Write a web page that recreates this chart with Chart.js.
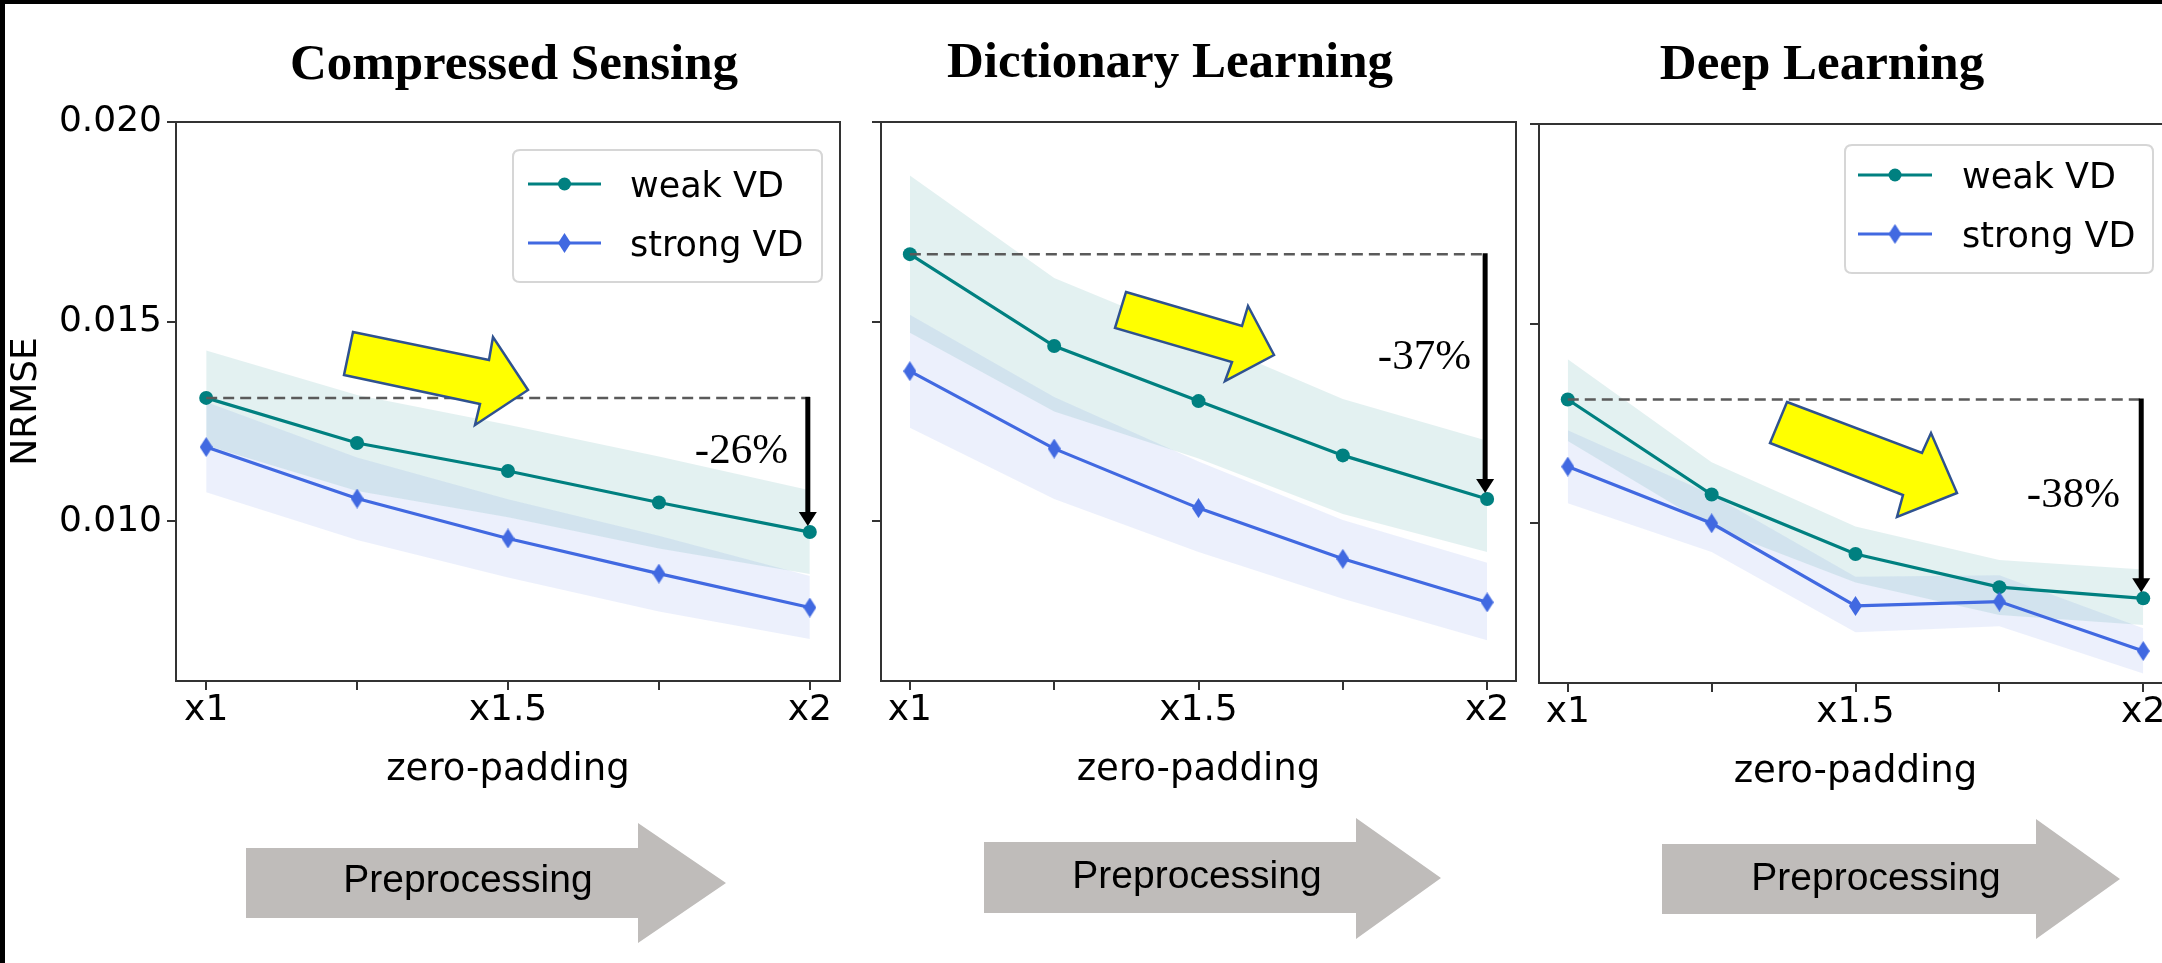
<!DOCTYPE html>
<html>
<head>
<meta charset="utf-8">
<script src="https://cdn.jsdelivr.net/npm/chart.js@4.4.1/dist/chart.umd.min.js"></script>
<style>
html, body { margin: 0; padding: 0; width: 2162px; height: 963px; overflow: hidden; background: #fff; }
canvas { position: absolute; left: 0; top: 0; }
.bar { position: absolute; background: #000; }
</style>
</head>
<body>
<canvas id="p0" width="2200" height="963"></canvas>
<canvas id="p1" width="2200" height="963"></canvas>
<canvas id="p2" width="2200" height="963"></canvas>
<div class="bar" style="left:0;top:0;width:2162px;height:4px"></div>
<div class="bar" style="left:0;top:0;width:5px;height:963px"></div>
<script>
// ---------------- data ----------------
const zeroPadding = [1, 1.25, 1.5, 1.75, 2];
const xTickLabels = ['x1', '', 'x1.5', '', 'x2'];
const yTickValues = [0.010, 0.015, 0.020];
const seriesLabels = ['weak VD', 'strong VD'];
const panelTitles = ['Compressed Sensing', 'Dictionary Learning', 'Deep Learning'];
const reductionLabels = ['-26%', '-37%', '-38%'];
const stageLabel = 'Preprocessing';
const xAxisTitle = 'zero-padding';
const yAxisTitle = 'NRMSE';

// Compressed Sensing
const csWeak        = [0.01309, 0.01196, 0.01126, 0.01047, 0.00973];
const csWeakUpper   = [0.01428, 0.01316, 0.01242, 0.01162, 0.01078];
const csWeakLower   = [0.01190, 0.01076, 0.01010, 0.00932, 0.00868];
const csStrong      = [0.01186, 0.01057, 0.00957, 0.00869, 0.00784];
const csStrongUpper = [0.01299, 0.01160, 0.01055, 0.00964, 0.00863];
const csStrongLower = [0.01073, 0.00953, 0.00859, 0.00774, 0.00705];

// Dictionary Learning
const dlWeak        = [0.01669, 0.01439, 0.01301, 0.01165, 0.01056];
const dlWeakUpper   = [0.01866, 0.01609, 0.01460, 0.01306, 0.01202];
const dlWeakLower   = [0.01472, 0.01275, 0.01157, 0.01018, 0.00923];
const dlStrong      = [0.01376, 0.01182, 0.01033, 0.00906, 0.00797];
const dlStrongUpper = [0.01517, 0.01311, 0.01150, 0.01003, 0.00896];
const dlStrongLower = [0.01234, 0.01056, 0.00923, 0.00806, 0.00702];

// Deep Learning
const deepWeak        = [0.01310, 0.01072, 0.00923, 0.00840, 0.00812];
const deepWeakUpper   = [0.01411, 0.01153, 0.00992, 0.00908, 0.00884];
const deepWeakLower   = [0.01206, 0.00990, 0.00852, 0.00770, 0.00745];
const deepStrong      = [0.01142, 0.01000, 0.00793, 0.00804, 0.00680];
const deepStrongUpper = [0.01233, 0.01072, 0.00866, 0.00870, 0.00737];
const deepStrongLower = [0.01050, 0.00928, 0.00727, 0.00742, 0.00624];

// ---------------- styles / layout ----------------
const TEAL = '#008080';
const BLUE = '#4169e1';
const TEAL_BAND = 'rgba(0,128,128,0.11)';
const BLUE_BAND = 'rgba(65,105,225,0.10)';
const SANS = '"DejaVu Sans", sans-serif';
const SERIF = '"Liberation Serif", "Times New Roman", serif';
const ARIAL = '"Liberation Sans", Arial, sans-serif';
const CW = 2200, CH = 963, X_AXIS_H = 112;

const LAYOUT = [
  { area: {left: 176, top: 122, right: 840, bottom: 681}, yAxisWidth: 176, yLabels: true,
    title: {x: 514, y: 79},
    legend: {x0: 513, y0: 150, x1: 822, y1: 282, rows: [184, 243], lineX0: 528, lineX1: 601, textX: 630},
    pct: {right: 788, baseline: 463},
    yellow: [[353,332],[489,360],[493,337],[528,390],[475,425],[480,404],[344,375]],
    gray: {l: 246, t: 848, b: 918, hs: 638, ht: 823, hb: 943, tx: 726, ty: 883},
    stage: {x: 468, y: 892} },
  { area: {left: 881, top: 122, right: 1516, bottom: 681}, yAxisWidth: 10, yLabels: false,
    title: {x: 1170, y: 77},
    legend: null,
    pct: {right: 1471, baseline: 369},
    yellow: [[1126,292],[1242,326],[1248,306],[1274,355],[1225,381],[1232,362],[1115,328]],
    gray: {l: 984, t: 842, b: 913, hs: 1356, ht: 818, hb: 939, tx: 1441, ty: 878},
    stage: {x: 1197, y: 888} },
  { area: {left: 1539, top: 124, right: 2172, bottom: 683}, yAxisWidth: 10, yLabels: false,
    title: {x: 1822, y: 79},
    legend: {x0: 1845, y0: 145, x1: 2153, y1: 273, rows: [175, 234], lineX0: 1858, lineX1: 1932, textX: 1962},
    pct: {right: 2120, baseline: 507},
    yellow: [[1787,402],[1922,453],[1931,433],[1957,493],[1897,517],[1903,495],[1770,443]],
    gray: {l: 1662, t: 844, b: 914, hs: 2036, ht: 819, hb: 939, tx: 2120, ty: 879},
    stage: {x: 1876, y: 890} }
];

function makeDiamond(color, w, h) {
  const c = document.createElement('canvas');
  c.width = w; c.height = h;
  const g = c.getContext('2d');
  g.fillStyle = color;
  g.beginPath();
  g.moveTo(w / 2, 0); g.lineTo(w, h / 2); g.lineTo(w / 2, h); g.lineTo(0, h / 2);
  g.closePath(); g.fill();
  return c;
}
const DIAMOND = makeDiamond(BLUE, 13, 20);

function pts(arr) { return zeroPadding.map((x, i) => ({x: x, y: arr[i]})); }

function roundRect(ctx, x0, y0, x1, y1, r) {
  ctx.beginPath();
  ctx.moveTo(x0 + r, y0);
  ctx.lineTo(x1 - r, y0); ctx.quadraticCurveTo(x1, y0, x1, y0 + r);
  ctx.lineTo(x1, y1 - r); ctx.quadraticCurveTo(x1, y1, x1 - r, y1);
  ctx.lineTo(x0 + r, y1); ctx.quadraticCurveTo(x0, y1, x0, y1 - r);
  ctx.lineTo(x0, y0 + r); ctx.quadraticCurveTo(x0, y0, x0 + r, y0);
  ctx.closePath();
}

function decorPlugin(idx, s) {
  const L = LAYOUT[idx];
  return {
    id: 'decor' + idx,
    afterDraw(chart) {
      const ctx = chart.ctx, a = chart.chartArea;
      const xs = chart.scales.x, ys = chart.scales.y;
      ctx.save();
      // axes frame
      ctx.strokeStyle = '#333'; ctx.lineWidth = 2;
      ctx.strokeRect(a.left, a.top, a.right - a.left, a.bottom - a.top);

      // yellow block arrow
      ctx.beginPath();
      L.yellow.forEach((p, i) => i ? ctx.lineTo(p[0], p[1]) : ctx.moveTo(p[0], p[1]));
      ctx.closePath();
      ctx.fillStyle = '#ffff00'; ctx.fill();
      ctx.strokeStyle = '#2f528f'; ctx.lineWidth = 2.5; ctx.lineJoin = 'miter'; ctx.stroke();

      // vertical reduction arrow
      const ax = xs.getPixelForValue(zeroPadding[4]) - 2;
      const yTop = ys.getPixelForValue(s.weak[0]) - 1;
      const yTip = ys.getPixelForValue(s.weak[4]) - 6;
      const headL = 14, headW = 18;
      ctx.strokeStyle = '#000'; ctx.lineWidth = 5; ctx.lineCap = 'butt';
      ctx.beginPath(); ctx.moveTo(ax, yTop); ctx.lineTo(ax, yTip - headL + 1); ctx.stroke();
      ctx.fillStyle = '#000';
      ctx.beginPath();
      ctx.moveTo(ax - headW / 2, yTip - headL); ctx.lineTo(ax + headW / 2, yTip - headL); ctx.lineTo(ax, yTip);
      ctx.closePath(); ctx.fill();

      // percentage
      ctx.font = '43px ' + SERIF; ctx.textAlign = 'right'; ctx.textBaseline = 'alphabetic';
      ctx.fillStyle = '#000';
      ctx.fillText(reductionLabels[idx], L.pct.right, L.pct.baseline);

      // legend
      if (L.legend) {
        const g = L.legend;
        roundRect(ctx, g.x0, g.y0, g.x1, g.y1, 7);
        ctx.fillStyle = 'rgba(255,255,255,0.85)'; ctx.fill();
        ctx.strokeStyle = '#d6d6d6'; ctx.lineWidth = 2; ctx.stroke();
        const ds = [chart.data.datasets[4], chart.data.datasets[5]];
        ds.forEach((d, i) => {
          const y = g.rows[i];
          ctx.strokeStyle = d.borderColor; ctx.lineWidth = 3;
          ctx.beginPath(); ctx.moveTo(g.lineX0, y); ctx.lineTo(g.lineX1, y); ctx.stroke();
          const mx = (g.lineX0 + g.lineX1) / 2;
          if (i === 0) {
            ctx.fillStyle = d.borderColor;
            ctx.beginPath(); ctx.arc(mx, y, 6.5, 0, Math.PI * 2); ctx.fill();
          } else {
            ctx.drawImage(DIAMOND, mx - DIAMOND.width / 2, y - DIAMOND.height / 2);
          }
          ctx.fillStyle = '#000'; ctx.font = '35px ' + SANS; ctx.textAlign = 'left';
          ctx.fillText(d.label, g.textX, y + 13);
        });
      }

      // panel title
      ctx.fillStyle = '#000'; ctx.font = 'bold 51px ' + SERIF; ctx.textAlign = 'center';
      ctx.fillText(panelTitles[idx], L.title.x, L.title.y);

      // grey "Preprocessing" arrow
      const q = L.gray;
      ctx.beginPath();
      ctx.moveTo(q.l, q.t); ctx.lineTo(q.hs, q.t); ctx.lineTo(q.hs, q.ht); ctx.lineTo(q.tx, q.ty);
      ctx.lineTo(q.hs, q.hb); ctx.lineTo(q.hs, q.b); ctx.lineTo(q.l, q.b); ctx.closePath();
      ctx.fillStyle = '#bfbcba'; ctx.fill();
      ctx.fillStyle = '#000'; ctx.font = '39px ' + ARIAL; ctx.textAlign = 'center';
      ctx.fillText(stageLabel, L.stage.x, L.stage.y);
      ctx.restore();
    }
  };
}

function makePanel(idx, s) {
  const L = LAYOUT[idx];
  const band = (arr, color, fill) => ({
    data: pts(arr), borderWidth: 0, pointRadius: 0, backgroundColor: color || 'transparent',
    fill: fill, order: 10, tension: 0
  });
  const datasets = [
    band(s.weakUpper, null, false),
    band(s.weakLower, TEAL_BAND, '-1'),
    band(s.strongUpper, null, false),
    band(s.strongLower, BLUE_BAND, '-1'),
    { label: seriesLabels[0], data: pts(s.weak), borderColor: TEAL, borderWidth: 3.2,
      pointStyle: 'circle', pointRadius: 7, pointBackgroundColor: TEAL, pointBorderWidth: 0,
      fill: false, order: 3, tension: 0 },
    { label: seriesLabels[1], data: pts(s.strong), borderColor: BLUE, borderWidth: 3.2,
      pointStyle: DIAMOND, pointRadius: 10, pointBackgroundColor: BLUE, pointBorderWidth: 0,
      fill: false, order: 2, tension: 0 },
    { label: 'ref', data: [{x: zeroPadding[0], y: s.weak[0]}, {x: zeroPadding[4], y: s.weak[0]}],
      borderColor: '#5a5a5a', borderWidth: 2.5, borderDash: [11, 6], pointRadius: 0,
      fill: false, order: 1 }
  ];
  return new Chart(document.getElementById('p' + idx), {
    type: 'line',
    data: { datasets },
    options: {
      responsive: false, animation: false, devicePixelRatio: 1, events: [],
      layout: { padding: { left: L.area.left - L.yAxisWidth, top: L.area.top,
                           right: CW - L.area.right, bottom: CH - L.area.bottom - X_AXIS_H } },
      plugins: { legend: { display: false }, tooltip: { enabled: false } },
      scales: {
        x: {
          type: 'linear', min: 0.95, max: 2.05,
          afterBuildTicks: sc => { sc.ticks = zeroPadding.map(v => ({value: v})); },
          afterFit: sc => { sc.height = X_AXIS_H; },
          ticks: { autoSkip: false, maxRotation: 0, padding: 3, color: '#000',
                   font: { family: SANS, size: 36, lineHeight: 1 },
                   callback: (v, i) => xTickLabels[i] },
          grid: { drawOnChartArea: false, drawTicks: true, tickLength: 9, color: '#333', lineWidth: 2 },
          border: { display: false },
          title: { display: true, text: xAxisTitle, color: '#000', padding: 0,
                   font: { family: SANS, size: 37, lineHeight: 1.2 } }
        },
        y: {
          type: 'linear', min: 0.006, max: 0.020,
          afterBuildTicks: sc => { sc.ticks = yTickValues.map(v => ({value: v})); },
          afterFit: sc => { sc.width = L.yAxisWidth; },
          ticks: { display: L.yLabels, padding: 5, color: '#000',
                   font: { family: SANS, size: 36, lineHeight: 1 },
                   callback: v => Number(v).toFixed(3) },
          grid: { drawOnChartArea: false, drawTicks: true, tickLength: 9, color: '#333', lineWidth: 2 },
          border: { display: false },
          title: { display: L.yLabels, text: yAxisTitle, color: '#000', padding: { top: 5, bottom: 0 },
                   font: { family: SANS, size: 36, lineHeight: 1.2 } }
        }
      }
    },
    plugins: [decorPlugin(idx, s)]
  });
}

makePanel(0, { weak: csWeak, weakUpper: csWeakUpper, weakLower: csWeakLower,
               strong: csStrong, strongUpper: csStrongUpper, strongLower: csStrongLower });
makePanel(1, { weak: dlWeak, weakUpper: dlWeakUpper, weakLower: dlWeakLower,
               strong: dlStrong, strongUpper: dlStrongUpper, strongLower: dlStrongLower });
makePanel(2, { weak: deepWeak, weakUpper: deepWeakUpper, weakLower: deepWeakLower,
               strong: deepStrong, strongUpper: deepStrongUpper, strongLower: deepStrongLower });
</script>
</body>
</html>
